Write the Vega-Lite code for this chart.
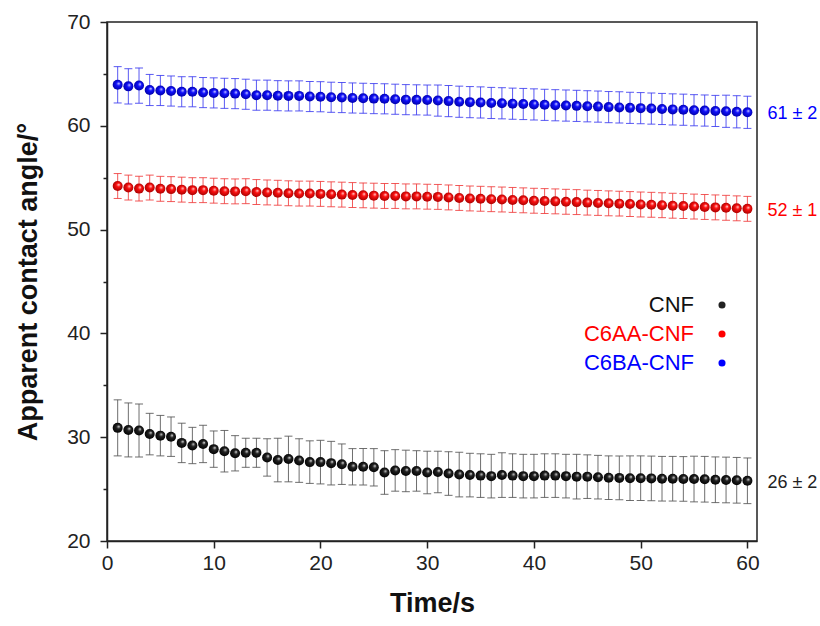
{
"$schema":"https://vega.github.io/schema/vega-lite/v6.json",
"width":650,"height":519,
"autosize":"none",
"padding":{"left":107,"top":22,"right":63,"bottom":85},
"background":"white",
"config":{"font":"Liberation Sans","view":{"stroke":"#222","strokeWidth":1.5},
"axis":{"grid":false,"domainColor":"#222","domainWidth":1.5,"tickColor":"#222","tickWidth":1.5,"tickSize":7,"labelFontSize":21,"labelColor":"#222","labelFont":"Liberation Sans","titleFont":"Liberation Sans","titleFontSize":27,"titleFontWeight":"bold","titleColor":"#111","labelFlush":false,"labelOverlap":false}},
"datasets":{
"pts":[
{"t":1,"s":"CNF","v":30.9,"e":2.7},{"t":2,"s":"CNF","v":30.7,"e":2.6},{"t":3,"s":"CNF","v":30.65,"e":2.55},{"t":4,"s":"CNF","v":30.3,"e":2.0},{"t":5,"s":"CNF","v":30.15,"e":1.95},{"t":6,"s":"CNF","v":30.05,"e":1.9},{"t":7,"s":"CNF","v":29.45,"e":1.9},{"t":8,"s":"CNF","v":29.2,"e":1.75},{"t":9,"s":"CNF","v":29.35,"e":1.8},{"t":10,"s":"CNF","v":28.85,"e":1.75},
{"t":11,"s":"CNF","v":28.65,"e":2.0},{"t":12,"s":"CNF","v":28.45,"e":1.7},{"t":13,"s":"CNF","v":28.5,"e":1.4},{"t":14,"s":"CNF","v":28.5,"e":1.4},{"t":15,"s":"CNF","v":28.05,"e":1.8},{"t":16,"s":"CNF","v":27.8,"e":2.1},{"t":17,"s":"CNF","v":27.9,"e":2.2},{"t":18,"s":"CNF","v":27.75,"e":2.1},{"t":19,"s":"CNF","v":27.6,"e":2.05},{"t":20,"s":"CNF","v":27.6,"e":2.1},
{"t":21,"s":"CNF","v":27.5,"e":2.1},{"t":22,"s":"CNF","v":27.4,"e":1.95},{"t":23,"s":"CNF","v":27.15,"e":1.75},{"t":24,"s":"CNF","v":27.15,"e":1.75},{"t":25,"s":"CNF","v":27.1,"e":1.8},{"t":26,"s":"CNF","v":26.6,"e":2.1},{"t":27,"s":"CNF","v":26.8,"e":2.0},{"t":28,"s":"CNF","v":26.75,"e":2.0},{"t":29,"s":"CNF","v":26.75,"e":1.95},{"t":30,"s":"CNF","v":26.6,"e":2.05},
{"t":31,"s":"CNF","v":26.65,"e":2.0},{"t":32,"s":"CNF","v":26.5,"e":2.1},{"t":33,"s":"CNF","v":26.4,"e":2.15},{"t":34,"s":"CNF","v":26.35,"e":2.1},{"t":35,"s":"CNF","v":26.3,"e":2.1},{"t":36,"s":"CNF","v":26.25,"e":2.1},{"t":37,"s":"CNF","v":26.35,"e":2.15},{"t":38,"s":"CNF","v":26.3,"e":2.1},{"t":39,"s":"CNF","v":26.25,"e":2.1},{"t":40,"s":"CNF","v":26.25,"e":2.1},
{"t":41,"s":"CNF","v":26.3,"e":2.1},{"t":42,"s":"CNF","v":26.3,"e":2.1},{"t":43,"s":"CNF","v":26.25,"e":2.1},{"t":44,"s":"CNF","v":26.2,"e":2.15},{"t":45,"s":"CNF","v":26.2,"e":2.1},{"t":46,"s":"CNF","v":26.15,"e":2.1},{"t":47,"s":"CNF","v":26.1,"e":2.1},{"t":48,"s":"CNF","v":26.08,"e":2.1},{"t":49,"s":"CNF","v":26.05,"e":2.15},{"t":50,"s":"CNF","v":26.05,"e":2.15},
{"t":51,"s":"CNF","v":26.03,"e":2.15},{"t":52,"s":"CNF","v":26.0,"e":2.15},{"t":53,"s":"CNF","v":26.0,"e":2.15},{"t":54,"s":"CNF","v":25.98,"e":2.15},{"t":55,"s":"CNF","v":25.97,"e":2.2},{"t":56,"s":"CNF","v":25.95,"e":2.2},{"t":57,"s":"CNF","v":25.9,"e":2.2},{"t":58,"s":"CNF","v":25.88,"e":2.2},{"t":59,"s":"CNF","v":25.85,"e":2.2},{"t":60,"s":"CNF","v":25.8,"e":2.2},
{"t":1,"s":"C6AA-CNF","v":54.2,"e":1.2},{"t":2,"s":"C6AA-CNF","v":54.05,"e":1.2},{"t":3,"s":"C6AA-CNF","v":53.95,"e":1.2},{"t":4,"s":"C6AA-CNF","v":54.05,"e":1.2},{"t":5,"s":"C6AA-CNF","v":53.93,"e":1.2},{"t":6,"s":"C6AA-CNF","v":53.9,"e":1.2},{"t":7,"s":"C6AA-CNF","v":53.85,"e":1.2},{"t":8,"s":"C6AA-CNF","v":53.8,"e":1.2},{"t":9,"s":"C6AA-CNF","v":53.8,"e":1.2},{"t":10,"s":"C6AA-CNF","v":53.75,"e":1.2},
{"t":11,"s":"C6AA-CNF","v":53.7,"e":1.2},{"t":12,"s":"C6AA-CNF","v":53.68,"e":1.2},{"t":13,"s":"C6AA-CNF","v":53.7,"e":1.2},{"t":14,"s":"C6AA-CNF","v":53.62,"e":1.2},{"t":15,"s":"C6AA-CNF","v":53.58,"e":1.2},{"t":16,"s":"C6AA-CNF","v":53.55,"e":1.2},{"t":17,"s":"C6AA-CNF","v":53.5,"e":1.2},{"t":18,"s":"C6AA-CNF","v":53.47,"e":1.2},{"t":19,"s":"C6AA-CNF","v":53.47,"e":1.2},{"t":20,"s":"C6AA-CNF","v":53.44,"e":1.2},
{"t":21,"s":"C6AA-CNF","v":53.4,"e":1.2},{"t":22,"s":"C6AA-CNF","v":53.37,"e":1.2},{"t":23,"s":"C6AA-CNF","v":53.33,"e":1.2},{"t":24,"s":"C6AA-CNF","v":53.3,"e":1.2},{"t":25,"s":"C6AA-CNF","v":53.27,"e":1.2},{"t":26,"s":"C6AA-CNF","v":53.24,"e":1.2},{"t":27,"s":"C6AA-CNF","v":53.24,"e":1.2},{"t":28,"s":"C6AA-CNF","v":53.2,"e":1.2},{"t":29,"s":"C6AA-CNF","v":53.2,"e":1.2},{"t":30,"s":"C6AA-CNF","v":53.17,"e":1.2},
{"t":31,"s":"C6AA-CNF","v":53.15,"e":1.2},{"t":32,"s":"C6AA-CNF","v":53.1,"e":1.2},{"t":33,"s":"C6AA-CNF","v":53.05,"e":1.2},{"t":34,"s":"C6AA-CNF","v":53.0,"e":1.2},{"t":35,"s":"C6AA-CNF","v":52.97,"e":1.2},{"t":36,"s":"C6AA-CNF","v":52.93,"e":1.2},{"t":37,"s":"C6AA-CNF","v":52.9,"e":1.2},{"t":38,"s":"C6AA-CNF","v":52.86,"e":1.2},{"t":39,"s":"C6AA-CNF","v":52.82,"e":1.2},{"t":40,"s":"C6AA-CNF","v":52.78,"e":1.2},
{"t":41,"s":"C6AA-CNF","v":52.75,"e":1.2},{"t":42,"s":"C6AA-CNF","v":52.72,"e":1.2},{"t":43,"s":"C6AA-CNF","v":52.68,"e":1.2},{"t":44,"s":"C6AA-CNF","v":52.65,"e":1.2},{"t":45,"s":"C6AA-CNF","v":52.6,"e":1.2},{"t":46,"s":"C6AA-CNF","v":52.57,"e":1.2},{"t":47,"s":"C6AA-CNF","v":52.53,"e":1.2},{"t":48,"s":"C6AA-CNF","v":52.5,"e":1.2},{"t":49,"s":"C6AA-CNF","v":52.46,"e":1.2},{"t":50,"s":"C6AA-CNF","v":52.42,"e":1.2},
{"t":51,"s":"C6AA-CNF","v":52.39,"e":1.2},{"t":52,"s":"C6AA-CNF","v":52.35,"e":1.2},{"t":53,"s":"C6AA-CNF","v":52.3,"e":1.2},{"t":54,"s":"C6AA-CNF","v":52.27,"e":1.2},{"t":55,"s":"C6AA-CNF","v":52.22,"e":1.2},{"t":56,"s":"C6AA-CNF","v":52.18,"e":1.2},{"t":57,"s":"C6AA-CNF","v":52.14,"e":1.2},{"t":58,"s":"C6AA-CNF","v":52.1,"e":1.2},{"t":59,"s":"C6AA-CNF","v":52.05,"e":1.2},{"t":60,"s":"C6AA-CNF","v":52.0,"e":1.2},
{"t":1,"s":"C6BA-CNF","v":63.95,"e":1.75},{"t":2,"s":"C6BA-CNF","v":63.8,"e":1.7},{"t":3,"s":"C6BA-CNF","v":63.88,"e":1.7},{"t":4,"s":"C6BA-CNF","v":63.45,"e":1.5},{"t":5,"s":"C6BA-CNF","v":63.4,"e":1.45},{"t":6,"s":"C6BA-CNF","v":63.35,"e":1.45},{"t":7,"s":"C6BA-CNF","v":63.28,"e":1.45},{"t":8,"s":"C6BA-CNF","v":63.28,"e":1.45},{"t":9,"s":"C6BA-CNF","v":63.2,"e":1.45},{"t":10,"s":"C6BA-CNF","v":63.17,"e":1.45},
{"t":11,"s":"C6BA-CNF","v":63.13,"e":1.45},{"t":12,"s":"C6BA-CNF","v":63.1,"e":1.45},{"t":13,"s":"C6BA-CNF","v":63.04,"e":1.45},{"t":14,"s":"C6BA-CNF","v":62.95,"e":1.45},{"t":15,"s":"C6BA-CNF","v":62.95,"e":1.45},{"t":16,"s":"C6BA-CNF","v":62.9,"e":1.45},{"t":17,"s":"C6BA-CNF","v":62.88,"e":1.45},{"t":18,"s":"C6BA-CNF","v":62.88,"e":1.45},{"t":19,"s":"C6BA-CNF","v":62.82,"e":1.45},{"t":20,"s":"C6BA-CNF","v":62.8,"e":1.45},
{"t":21,"s":"C6BA-CNF","v":62.75,"e":1.45},{"t":22,"s":"C6BA-CNF","v":62.72,"e":1.45},{"t":23,"s":"C6BA-CNF","v":62.68,"e":1.45},{"t":24,"s":"C6BA-CNF","v":62.65,"e":1.45},{"t":25,"s":"C6BA-CNF","v":62.62,"e":1.45},{"t":26,"s":"C6BA-CNF","v":62.6,"e":1.45},{"t":27,"s":"C6BA-CNF","v":62.56,"e":1.45},{"t":28,"s":"C6BA-CNF","v":62.52,"e":1.45},{"t":29,"s":"C6BA-CNF","v":62.5,"e":1.45},{"t":30,"s":"C6BA-CNF","v":62.48,"e":1.45},
{"t":31,"s":"C6BA-CNF","v":62.43,"e":1.5},{"t":32,"s":"C6BA-CNF","v":62.38,"e":1.5},{"t":33,"s":"C6BA-CNF","v":62.32,"e":1.5},{"t":34,"s":"C6BA-CNF","v":62.28,"e":1.5},{"t":35,"s":"C6BA-CNF","v":62.25,"e":1.5},{"t":36,"s":"C6BA-CNF","v":62.2,"e":1.5},{"t":37,"s":"C6BA-CNF","v":62.17,"e":1.5},{"t":38,"s":"C6BA-CNF","v":62.13,"e":1.5},{"t":39,"s":"C6BA-CNF","v":62.1,"e":1.5},{"t":40,"s":"C6BA-CNF","v":62.06,"e":1.5},
{"t":41,"s":"C6BA-CNF","v":62.02,"e":1.5},{"t":42,"s":"C6BA-CNF","v":61.98,"e":1.5},{"t":43,"s":"C6BA-CNF","v":61.95,"e":1.5},{"t":44,"s":"C6BA-CNF","v":61.92,"e":1.5},{"t":45,"s":"C6BA-CNF","v":61.88,"e":1.5},{"t":46,"s":"C6BA-CNF","v":61.85,"e":1.5},{"t":47,"s":"C6BA-CNF","v":61.8,"e":1.5},{"t":48,"s":"C6BA-CNF","v":61.77,"e":1.5},{"t":49,"s":"C6BA-CNF","v":61.73,"e":1.5},{"t":50,"s":"C6BA-CNF","v":61.7,"e":1.5},
{"t":51,"s":"C6BA-CNF","v":61.66,"e":1.5},{"t":52,"s":"C6BA-CNF","v":61.62,"e":1.5},{"t":53,"s":"C6BA-CNF","v":61.58,"e":1.5},{"t":54,"s":"C6BA-CNF","v":61.55,"e":1.5},{"t":55,"s":"C6BA-CNF","v":61.5,"e":1.5},{"t":56,"s":"C6BA-CNF","v":61.47,"e":1.5},{"t":57,"s":"C6BA-CNF","v":61.43,"e":1.5},{"t":58,"s":"C6BA-CNF","v":61.4,"e":1.55},{"t":59,"s":"C6BA-CNF","v":61.35,"e":1.55},{"t":60,"s":"C6BA-CNF","v":61.3,"e":1.55}
],
"lab":[
{"s":"CNF","t":60,"v":25.8,"label":"26 ± 2"},
{"s":"C6AA-CNF","t":60,"v":52.0,"label":"52 ± 1"},
{"s":"C6BA-CNF","t":60,"v":61.3,"label":"61 ± 2"}
]
},
"resolve":{"scale":{"color":"independent"},"axis":{"y":"independent"}},
"layer":[
{"data":{"name":"pts"},
 "mark":{"type":"errorbar","ticks":{"size":8},"thickness":1,"opacity":0.85},
 "encoding":{
  "x":{"field":"t","type":"quantitative","scale":{"domain":[0,60.9],"nice":false},"axis":{"values":[0,10,20,30,40,50,60],"title":"Time/s","labelPadding":4,"titlePadding":17}},
  "y":{"field":"v","type":"quantitative","scale":{"domain":[20,70],"nice":false,"zero":false},"axis":{"orient":"left","values":[20,30,40,50,60,70],"title":"Apparent contact angle/°","labelPadding":10,"titlePadding":24}},
  "yError":{"field":"e"},
  "color":{"field":"s","type":"nominal","scale":{"domain":["CNF","C6AA-CNF","C6BA-CNF"],"range":["#555555","#f03c3c","#3c3cf0"]},"legend":null}
 }},
{"data":{"name":"pts"},
 "transform":[{"filter":"datum.s === 'CNF'"}],
 "mark":{"type":"circle","size":100,"opacity":1,
   "color":{"gradient":"radial","x1":0.62,"y1":0.35,"r1":0,"x2":0.5,"y2":0.5,"r2":0.55,"stops":[{"offset":0,"color":"#e8e8e8"},{"offset":0.35,"color":"#222222"},{"offset":1,"color":"#000000"}]}},
 "encoding":{"x":{"field":"t","type":"quantitative"},"y":{"field":"v","type":"quantitative","axis":null}}},
{"data":{"name":"pts"},
 "transform":[{"filter":"datum.s === 'C6AA-CNF'"}],
 "mark":{"type":"circle","size":100,"opacity":1,
   "color":{"gradient":"radial","x1":0.62,"y1":0.35,"r1":0,"x2":0.5,"y2":0.5,"r2":0.55,"stops":[{"offset":0,"color":"#ffe8e8"},{"offset":0.35,"color":"#ff1010"},{"offset":1,"color":"#a00000"}]}},
 "encoding":{"x":{"field":"t","type":"quantitative"},"y":{"field":"v","type":"quantitative","axis":null}}},
{"data":{"name":"pts"},
 "transform":[{"filter":"datum.s === 'C6BA-CNF'"}],
 "mark":{"type":"circle","size":100,"opacity":1,
   "color":{"gradient":"radial","x1":0.62,"y1":0.35,"r1":0,"x2":0.5,"y2":0.5,"r2":0.55,"stops":[{"offset":0,"color":"#e8e8ff"},{"offset":0.35,"color":"#1010ff"},{"offset":1,"color":"#0000a0"}]}},
 "encoding":{"x":{"field":"t","type":"quantitative"},"y":{"field":"v","type":"quantitative","axis":null}}},
{"data":{"name":"lab"},
 "mark":{"type":"text","align":"left","baseline":"middle","dx":20,"dy":2,"fontSize":18,"font":"Liberation Sans"},
 "encoding":{
  "x":{"field":"t","type":"quantitative"},
  "y":{"field":"v","type":"quantitative","axis":{"orient":"left","values":[25,35,45,55,65],"labels":false,"domain":false,"tickSize":4,"title":null}},
  "text":{"field":"label"},
  "color":{"field":"s","type":"nominal","scale":{"domain":["CNF","C6AA-CNF","C6BA-CNF"],"range":["#222222","#ff0000","#0000ff"]},
   "legend":{"title":null,"orient":"none","legendX":604,"legendY":272,"labelAlign":"right","labelOffset":-39,"labelFontSize":22,"labelFont":"Liberation Sans","symbolSize":50,"symbolType":"circle","rowPadding":7,"padding":0,
    "encode":{"labels":{"update":{"fill":{"signal":"datum.value === 'CNF' ? '#111111' : (datum.value === 'C6AA-CNF' ? '#ff0000' : '#0000ff')"}}}}}}
 }}
]
}
